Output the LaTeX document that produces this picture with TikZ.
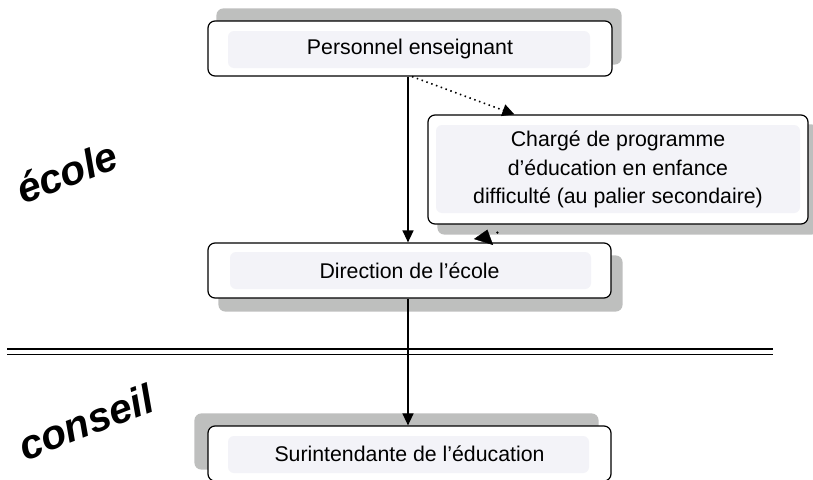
\documentclass[tikz,border=0pt]{standalone}
\usepackage{fontspec}
\setmainfont{Liberation Sans}
\usetikzlibrary{arrows.meta}
\pgfdeclarelayer{background}
\pgfsetlayers{background,main}
\definecolor{shadowgray}{HTML}{BEBFBE}
\definecolor{panelfill}{HTML}{F3F3F8}
\tikzset{
  orgbox/.style={draw=black, line width=1.2pt, rounded corners=7pt, fill=white,
    inner sep=0pt, align=center, font=\fontsize{21.3}{28.5}\selectfont},
  panel/.style n args={4}{path picture={\fill[panelfill, rounded corners=6pt]
    ([shift={(#1,-#2)}]path picture bounding box.north west) rectangle
    ([shift={(-#3,#4)}]path picture bounding box.south east);}},
  boxshadow/.style={fill=shadowgray, rounded corners=7pt},
  arr/.style={line width=1.3pt, -{Triangle[length=12pt,width=11pt]}},
  dotarr/.style={line width=1.6pt, dash pattern=on 1.5pt off 3.6pt,
    -{Triangle[length=12pt,width=12pt]}},
  stubarr/.style={-{Triangle[length=13pt,width=20pt]}},
  sideword/.style={rotate=21, font=\fontsize{41}{41}\selectfont\bfseries\itshape},
  sepline/.style={line width=1.8pt},
}
\begin{document}
\begin{tikzpicture}[x=1pt,y=-1pt]
\useasboundingbox (0,0) rectangle (813,479);

% boxes
\node[orgbox, minimum width=404pt, minimum height=55pt, panel={20pt}{10pt}{22pt}{8pt}]
  (p) at (410,48.5) {Personnel enseignant};
\node[orgbox, minimum width=380pt, minimum height=109pt, panel={8pt}{10pt}{8pt}{11pt}]
  (c) at (618,169.5) {Chargé de programme\\d’éducation en enfance\\difficulté (au palier secondaire)};
\node[orgbox, minimum width=403pt, minimum height=55pt, panel={22pt}{9pt}{20pt}{9pt}]
  (d) at (409.5,270.5) {Direction de l’école};
\node[orgbox, minimum width=403pt, minimum height=55pt, panel={20pt}{10pt}{22pt}{8pt}]
  (s) at (409.5,453.5) {Surintendante de l’éducation};

% shadows
\begin{pgfonlayer}{background}
  \fill[boxshadow] ([shift={(9pt,12pt)}]p.north west) rectangle ([shift={(9pt,12pt)}]p.south east);
  \fill[boxshadow] ([shift={(10pt,-10pt)}]c.north west) rectangle ([shift={(10pt,-10pt)}]c.south east);
  \fill[boxshadow] ([shift={(11pt,-13pt)}]d.north west) rectangle ([shift={(11pt,-13pt)}]d.south east);
  \fill[boxshadow] ([shift={(-13pt,12pt)}]s.north west) rectangle ([shift={(-13pt,12pt)}]s.south east);
\end{pgfonlayer}

% separator
\coordinate (sepL) at (7,349);
\coordinate (sepR) at (773,349);
\draw[sepline] (sepL) -- (sepR);
\draw[sepline] ([yshift=-5.5pt]sepL) -- ([yshift=-5.5pt]sepR);

% connectors
\draw[arr] ([xshift=-2pt]p.south) -- ([xshift=-1.5pt]d.north);
\draw[dotarr] ([xshift=2pt]p.south) -- ([xshift=87pt]c.north west);
\draw[stubarr] ([xshift=276pt]d.north west) -- ([shift={(60pt,-5pt)}]c.south west);
\fill ([shift={(70pt,-8pt)}]c.south west) circle (1.3pt);
\draw[arr] ([xshift=-1.5pt]d.south) -- ([xshift=-1.5pt]s.north);

% side words
\node[sideword] (ecole) at (67,172) {école};
\node[sideword] (conseil) at (86,422) {conseil};
\end{tikzpicture}
\end{document}
